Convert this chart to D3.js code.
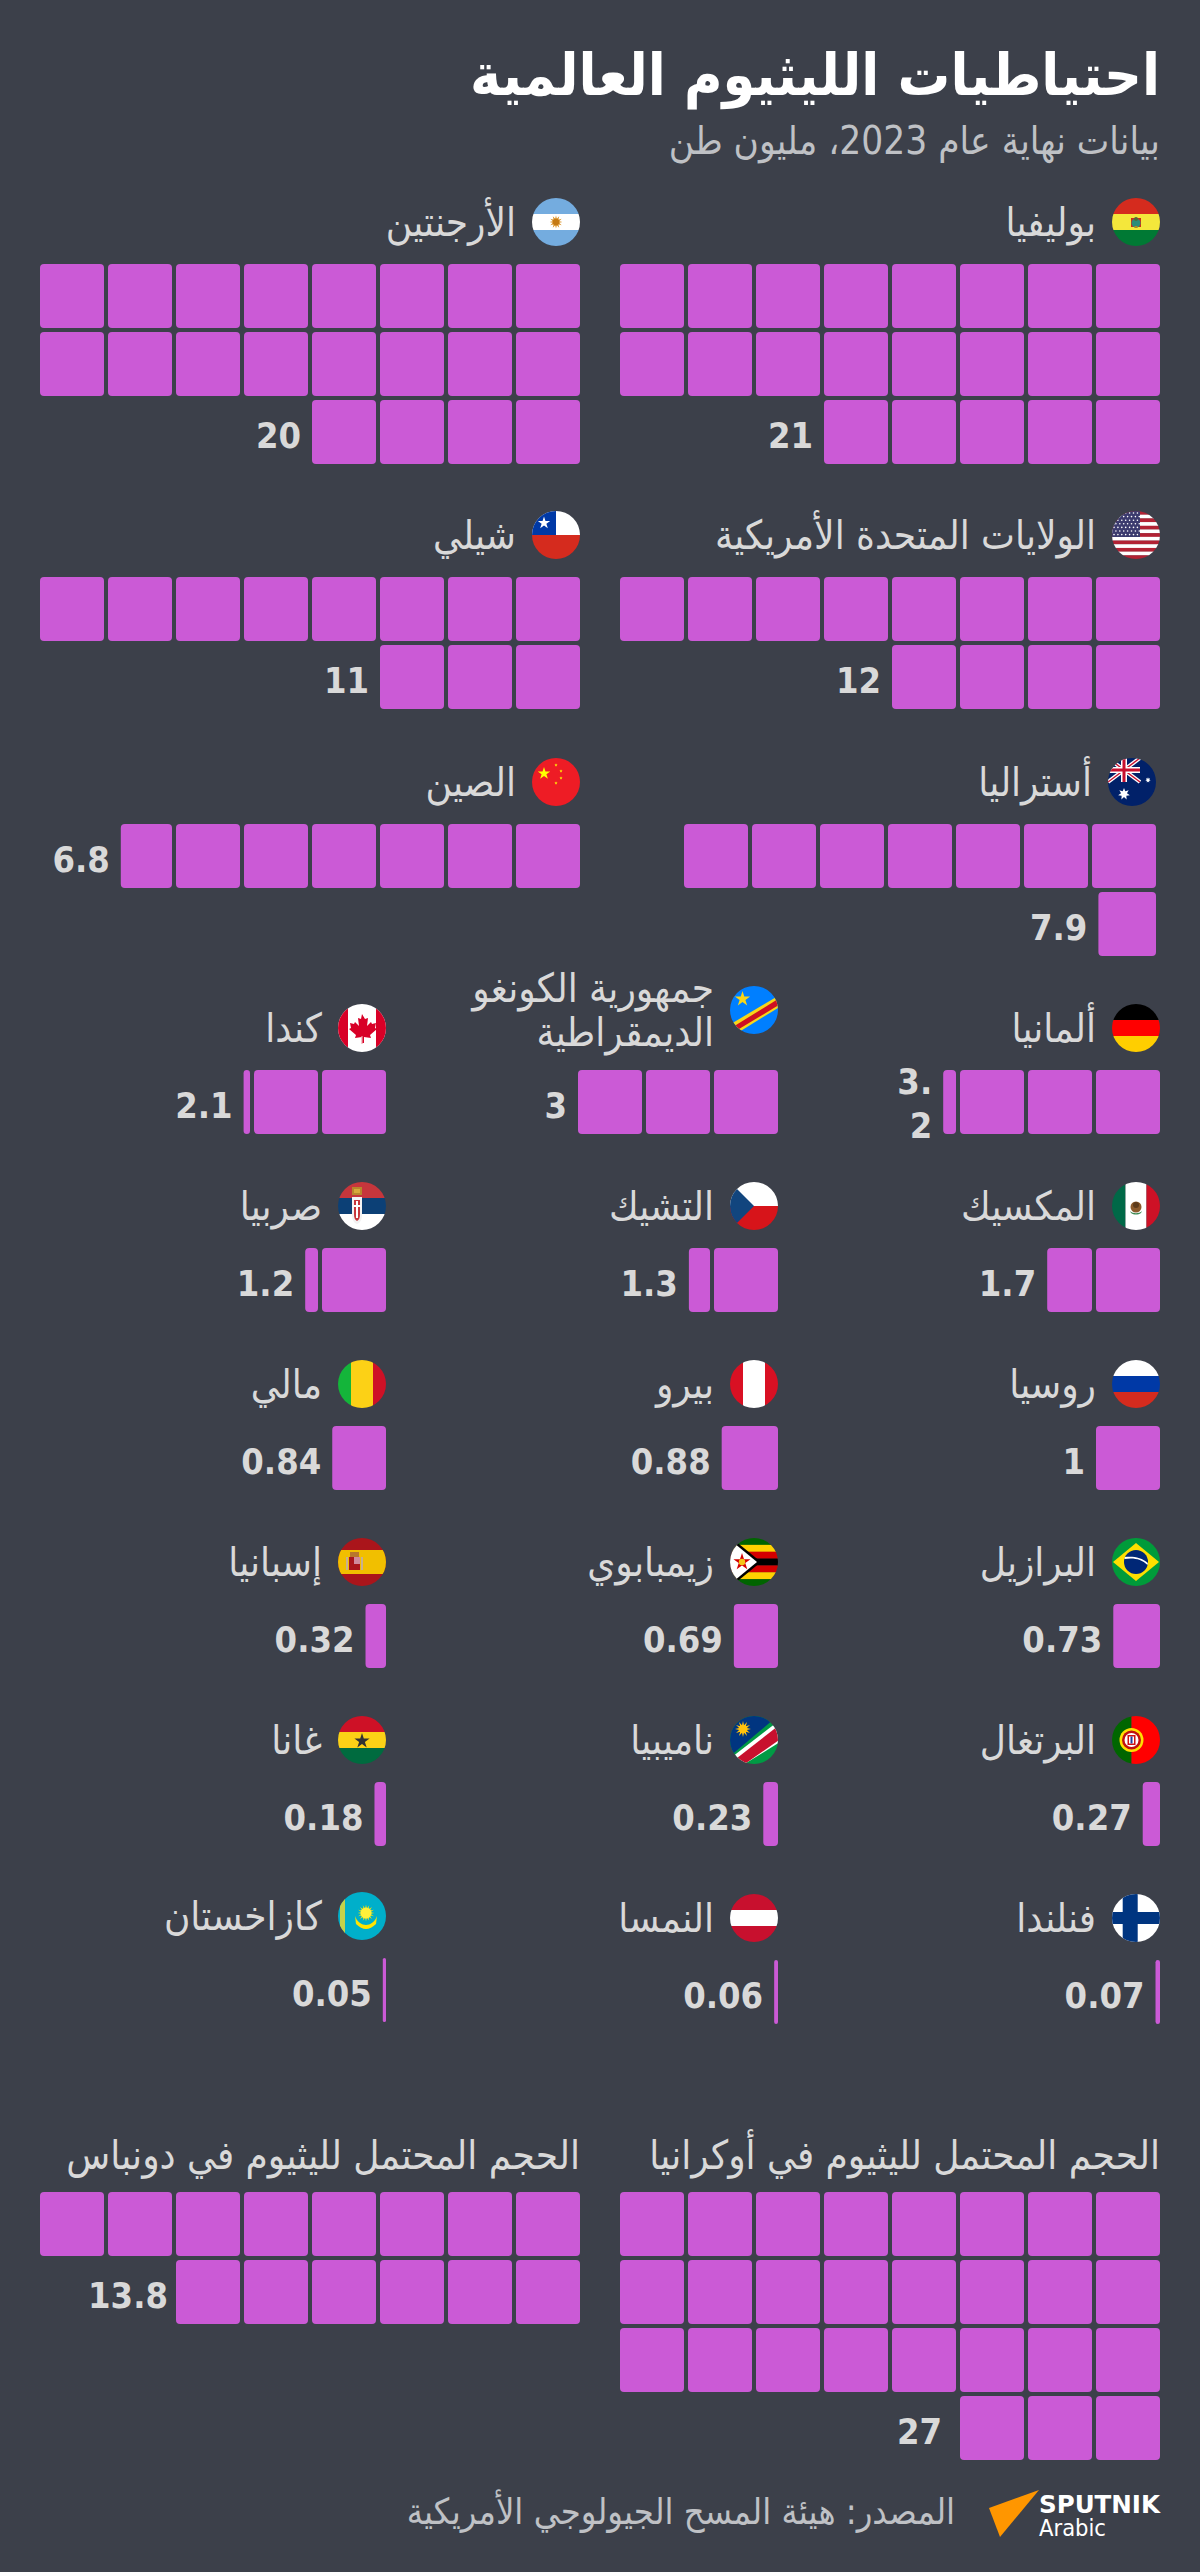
<!DOCTYPE html>
<html lang="ar">
<head>
<meta charset="utf-8">
<title>احتياطيات الليثيوم العالمية</title>
<script src="https://cdn.jsdelivr.net/npm/d3@7"></script>
<style>
html,body{margin:0;padding:0;background:#3c404a;}
svg{display:block;}
text{font-family:"DejaVu Sans Condensed","DejaVu Sans",sans-serif;}
</style>
</head>
<body>
<div id="chart"></div>
<script>
// ---------- data ----------
const titleText = "احتياطيات الليثيوم العالمية";
const subtitleText = "بيانات نهاية عام 2023، مليون طن";
const sourceText = "المصدر: هيئة المسح الجيولوجي الأمريكية";

const countryNames = [
  "بوليفيا","الأرجنتين",
  "الولايات المتحدة الأمريكية","شيلي",
  "أستراليا","الصين",
  "ألمانيا","جمهورية الكونغو الديمقراطية","كندا",
  "المكسيك","التشيك","صربيا",
  "روسيا","بيرو","مالي",
  "البرازيل","زيمبابوي","إسبانيا",
  "البرتغال","ناميبيا","غانا",
  "فنلندا","النمسا","كازاخستان"
];
const flagCodes = [
  "bo","ar","us","cl","au","cn","de","cd","ca","mx","cz","rs",
  "ru","pe","ml","br","zw","es","pt","na","gh","fi","at","kz"
];
const reserves = [21,20,12,11,7.9,6.8,3.2,3,2.1,1.7,1.33,1.2,1,0.88,0.84,0.73,0.69,0.32,0.27,0.23,0.18,0.07,0.06,0.05];
const reserveLabels = ["21","20","12","11","7.9","6.8","3.2","3","2.1","1.7","1.3","1.2","1","0.88","0.84","0.73","0.69","0.32","0.27","0.23","0.18","0.07","0.06","0.05"];

const potentialNames = ["الحجم المحتمل لليثيوم في أوكرانيا","الحجم المحتمل لليثيوم في دونباس"];
const potentialValues = [27,14];
const potentialLabels = ["27","13.8"];

// ---------- layout ----------
const W = 1200, H = 2572;
const BG = "#3c404a", BAR = "#cb5ad6", LABEL = "#d9d9d9", MUTED = "#bfc1c5";
const CELL = 64, GAP = 4, PITCH = CELL + GAP, FLAG = 48, LABEL_SIZE = 40;
const potentialLabelGaps = [18, 8];

const rowLayout = [
  {flag:222, cells:264, cols:[1160,580]},
  {flag:535, cells:577, cols:[1160,580]},
  {flag:782, cells:824, cols:[1156,580], perRow:7},
  {flag:1028,cells:1070,cols:[1160,778,386]},
  {flag:1206,cells:1248,cols:[1160,778,386]},
  {flag:1384,cells:1426,cols:[1160,778,386]},
  {flag:1562,cells:1604,cols:[1160,778,386]},
  {flag:1740,cells:1782,cols:[1160,778,386]},
  {flag:1918,cells:1960,cols:[1160,778,386]}
];

const unit = d3.scaleLinear().domain([0,1]).range([0,CELL]);
const stepX = d3.scaleLinear().domain([0,8]).range([0,8*PITCH]);
const stepY = d3.scaleLinear().domain([0,4]).range([0,4*PITCH]);

const svg = d3.select("#chart").append("svg")
  .attr("width",W).attr("height",H).attr("viewBox",[0,0,W,H]);
svg.append("rect").attr("width",W).attr("height",H).attr("fill",BG);

function rtlText(sel, x, y, txt, size, fill, weight){
  return sel.append("text").attr("x",x).attr("y",y)
    .attr("direction","rtl").attr("text-anchor","start")
    .attr("font-size",size).attr("font-weight",weight||400).attr("fill",fill).text(txt);
}

rtlText(svg,1160,95,titleText,58.5,"#ffffff",700);
rtlText(svg,1160,154,subtitleText,38.4,MUTED,400);

// cells of one country, filled from the right, wrapping every perRow cells
function cellsFor(v, perRow){
  const out=[]; let rest=v, i=0;
  while(rest>1e-9){
    const f=Math.min(rest,1);
    out.push({col:i%perRow,row:Math.floor(i/perRow),f});
    rest-=f; i++;
  }
  return out;
}
function drawBars(g, v, label, right, top, perRow, wrapLabel, labelGap){
  const cells=cellsFor(v,perRow||8);
  g.selectAll("rect.cell").data(cells).join("rect").attr("class","cell")
    .attr("x",d=>right-stepX(d.col)-unit(d.f))
    .attr("y",d=>top+stepY(d.row))
    .attr("width",d=>unit(d.f)).attr("height",CELL)
    .attr("rx",d=>Math.min(4,unit(d.f)/2)).attr("fill",BAR);
  const last=cells[cells.length-1];
  const lx=right-stepX(last.col)-unit(last.f)-(labelGap||11);
  const ly=top+stepY(last.row)+47.5;
  const t=g.append("text").attr("x",lx).attr("y",ly)
    .attr("text-anchor","end").attr("direction","ltr")
    .attr("font-size",36).attr("font-weight",700).attr("fill",LABEL);
  if(wrapLabel){
    t.attr("y",top+24);
    wrapLabel.forEach((s,i)=>t.append("tspan").attr("x",lx).attr("dy",i?44:0).text(s));
  } else t.text(label);
}

// ---------- flags ----------
const clipDefs=svg.append("defs");
clipDefs.append("clipPath").attr("id","flagClip").append("circle").attr("cx",24).attr("cy",24).attr("r",24);

function starPts(cx,cy,r,n,rot){
  n=n||5; const inner=n===5?r*0.382:r*0.5; const a0=rot===undefined?-Math.PI/2:rot; const p=[];
  for(let i=0;i<n*2;i++){const rr=i%2?inner:r,a=a0+i*Math.PI/n;p.push([cx+rr*Math.cos(a),cy+rr*Math.sin(a)].join(","));}
  return p.join(" ");
}
function fb(g){
  return {
    r:(x,y,w,h,f)=>g.append("rect").attr("x",x).attr("y",y).attr("width",w).attr("height",h).attr("fill",f),
    p:(pts,f)=>g.append("polygon").attr("points",pts).attr("fill",f),
    c:(x,y,r,f)=>g.append("circle").attr("cx",x).attr("cy",y).attr("r",r).attr("fill",f),
    s:(x,y,r,f,n,rot)=>g.append("polygon").attr("points",starPts(x,y,r,n,rot)).attr("fill",f),
    path:(d,f)=>g.append("path").attr("d",d).attr("fill",f),
    l:(x1,y1,x2,y2,st,w)=>g.append("line").attr("x1",x1).attr("y1",y1).attr("x2",x2).attr("y2",y2).attr("stroke",st).attr("stroke-width",w)
  };
}
const bands=(b,cols)=>cols.forEach((c,i)=>b.r(0,i*16,48,16,c));
const vbands=(b,xs,cols)=>cols.forEach((c,i)=>b.r(xs[i],0,xs[i+1]-xs[i],48,c));

const flagPainters={
  bo(b){bands(b,["#d52b1e","#f4e73b","#007934"]);
    b.r(19,20,10,9,"#c9301c");b.c(24,25,4.5,"#2a8c7a");b.c(24,21,2,"#4d6b3a");b.r(22.5,28,3,2,"#b08a20");},
  ar(b){bands(b,["#74acdf","#ffffff","#74acdf"]);b.s(24,24,6.5,"#d98e1c",12);b.c(24,24,3.2,"#c57a14");},
  us(b){for(let i=0;i<13;i++)b.r(0,i*48/13,48,48/13+0.2,i%2?"#ffffff":"#b22234");
    b.r(0,0,28,26,"#3c3b6e");
    for(let y=0;y<7;y++)for(let x=0;x<7;x++)b.c(2+x*3.9+(y%2?1.9:0),2+y*3.6,0.8,"#ffffff");},
  cl(b){b.r(0,0,48,24,"#ffffff");b.r(0,24,48,24,"#d52b1e");b.r(0,0,24,24,"#0039a6");b.s(12,12,6.5,"#ffffff");},
  au(b){b.r(0,0,48,48,"#012169");
    b.l(0,0,32,24,"#ffffff",4);b.l(32,0,0,24,"#ffffff",4);b.l(0,0,32,24,"#c8102e",1.4);b.l(32,0,0,24,"#c8102e",1.4);
    b.r(13,0,6,24,"#ffffff");b.r(0,9,32,6,"#ffffff");b.r(14.5,0,3,24,"#c8102e");b.r(0,10.5,32,3,"#c8102e");
    b.s(16,36,6,"#ffffff",7);b.s(40,22,2.8,"#ffffff",7);},
  cn(b){b.r(0,0,48,48,"#ee1c25");b.s(12,15.5,6.6,"#ffff00");
    [[24,7],[29,13],[29,20],[24,25]].forEach(q=>b.s(q[0],q[1],1.7,"#ffff00"));},
  de(b){bands(b,["#000000","#ff0000","#ffce00"]);},
  cd(b){b.r(0,0,48,48,"#007fff");b.p("0,38.5 48,10 48,22 9,46 0,46","#f7d618");b.p("2,41.5 48,13 48,19.5 9,43 3,43","#ce1021");b.s(12.5,13,8,"#f7d618");},
  ca(b){b.r(0,0,48,48,"#ffffff");b.r(0,0,10,48,"#d80027");b.r(38,0,10,48,"#d80027");
    b.path("M24 10l3 5 3-1-1 8 4-4 1 2 4-1-1 5 2 1-7 6 1 3-7-1v6h-2v-6l-7 1 1-3-7-6 2-1-1-5 4 1 1-2 4 4-1-8 3 1z","#d80027");
    b.r(23.4,32,1.2,8,"#f0a0a8");},
  mx(b){vbands(b,[0,13.5,34.5,48],["#006847","#ffffff","#ce1126"]);
    b.c(24,25,5.5,"#8c5a2b");b.c(24,23,3,"#5d3a1a");b.path("M18 29c3 3 9 3 12 0l-1 2c-3 2-7 2-10 0z","#3f8a55");},
  cz(b){b.r(0,0,48,24,"#ffffff");b.r(0,24,48,24,"#d7141a");b.p("0,0 24,24 0,48","#11457e");},
  rs(b){bands(b,["#c6363c","#0c4076","#ffffff"]);
    b.path("M14 15h10v18c0 5-2 8-5 9-3-1-5-4-5-9z","#f2f2f2");b.path("M16 18h6v14c0 4-1 6-3 7-2-1-3-3-3-7z","#c6363c");
    b.r(18,19,2,17,"#ffffff");b.r(15.5,23,7,2,"#ffffff");b.r(14,5,10,8,"#b8862c");b.r(16,7,6,4,"#d7a93a");},
  ru(b){bands(b,["#ffffff","#0039a6","#d52b1e"]);},
  pe(b){vbands(b,[0,13,35,48],["#d91023","#ffffff","#d91023"]);},
  ml(b){vbands(b,[0,13,35,48],["#14b53a","#fcd116","#ce1126"]);},
  br(b){b.r(0,0,48,48,"#009b3a");b.p("24,5 47,24 24,43 1,24","#fedf00");b.c(24,24,12,"#002776");
    b.path("M12.5 21c9-1.5 17 0 23 6l.4-2c-6-5.6-15-7-23-6z","#ffffff");},
  zw(b){["#006400","#ffd200","#d40000","#000000","#d40000","#ffd200","#006400"].forEach((c,i)=>b.r(0,i*48/7,48,48/7+0.2,c));
    b.p("-2,-3 31,24 -2,51","#000000");b.p("-2,0 27,24 -2,48","#ffffff");b.s(12,24,9,"#d40000");b.c(12,24,3.2,"#f5c518");},
  es(b){b.r(0,0,48,48,"#aa151b");b.r(0,12,48,24,"#f1bf00");
    b.r(11,19,11,13,"#aa151b");b.r(16,19,6,7,"#d08a9c");b.r(12,14,9,5,"#b8762c");b.r(8,19,2,13,"#c8b090");b.r(23,19,2,13,"#c8b090");},
  pt(b){b.r(0,0,19.5,48,"#006600");b.r(19.5,0,28.5,48,"#ff0000");
    b.c(19.5,24,12,"#ffe000");b.c(19.5,24,9.5,"#c01010");b.c(19.5,24,7,"#ffffff");b.r(15.5,19,8,10,"#d01010");b.r(17,20.5,5,7,"#ffffff");b.r(18.5,20.5,2,7,"#2040a0");},
  na(b){b.r(0,0,48,48,"#009a44");b.p("-2,-2 50,-2 -2,42","#003580");
    b.p("50,4 50,26 8,52 -2,44","#ffffff");b.p("52,7 52,22 9,52 2,46","#c8102e");
    b.s(13,13,8,"#ffc20e",12);b.c(13,13,4,"#ffc20e");},
  gh(b){bands(b,["#ce1126","#fcd116","#006b3f"]);b.s(24,25,8,"#333333");},
  fi(b){b.r(0,0,48,48,"#ffffff");b.r(10.7,0,15,48,"#003580");b.r(0,18,48,12,"#003580");},
  at(b){bands(b,["#c8102e","#ffffff","#c8102e"]);},
  kz(b){b.r(0,0,48,48,"#00afca");b.r(2,0,5,48,"#c5d24a");
    b.s(28,21,8.5,"#ffe400",16);b.c(28,21,5.5,"#fff03a");
    b.path("M17 24c2 6 7 9 11 9s9-3 11-9l-1 8c-3 3-7 5-10 5s-7-2-10-5z","#ffe400");}
};
function drawFlag(parent,code,right,cy){
  const g=parent.append("g").attr("transform",`translate(${right-FLAG},${cy-FLAG/2})`);
  const inner=g.append("g").attr("clip-path","url(#flagClip)");
  flagPainters[code](fb(inner));
}

// ---------- country blocks ----------
let idx=0;
rowLayout.forEach(row=>{
  row.cols.forEach(right=>{
    const i=idx++;
    const g=svg.append("g").attr("class","country");
    const flagY=(flagCodes[i]==="cd")?1010:(flagCodes[i]==="kz")?row.flag-2:row.flag;
    drawFlag(g,flagCodes[i],right,flagY);
    const labelX=right-FLAG-16;
    if(flagCodes[i]==="cd"){
      const parts=countryNames[i].split(" ");
      rtlText(g,labelX,1002,parts.slice(0,2).join(" "),LABEL_SIZE,LABEL,400);
      rtlText(g,labelX,1046,parts.slice(2).join(" "),LABEL_SIZE,LABEL,400);
    } else {
      rtlText(g,labelX,flagY+14,countryNames[i],LABEL_SIZE,LABEL,400);
    }
    const top=row.cells-(flagCodes[i]==="kz"?2:0);
    drawBars(g,reserves[i],reserveLabels[i],right,top,row.perRow,reserveLabels[i]==="3.2"?["3.","2"]:null);
  });
});

// ---------- potential blocks ----------
[1160,580].forEach((right,i)=>{
  const g=svg.append("g").attr("class","potential");
  rtlText(g,right,2169,potentialNames[i],LABEL_SIZE,LABEL,400);
  drawBars(g,potentialValues[i],potentialLabels[i],right,2192,8,null,potentialLabelGaps[i]);
});

// ---------- footer ----------
rtlText(svg,955,2524,sourceText,36,MUTED,400);
svg.append("polygon").attr("points","1039,2490 989,2508 1000,2537").attr("fill","#ff9600");
svg.append("text").attr("x",1039).attr("y",2513).attr("font-size",25).attr("font-weight",700)
  .attr("textLength",121).attr("lengthAdjust","spacingAndGlyphs").attr("fill","#ffffff").text("SPUTNIK");
svg.append("text").attr("x",1039).attr("y",2536).attr("font-size",23).attr("font-weight",400)
  .attr("textLength",67).attr("lengthAdjust","spacingAndGlyphs").attr("fill","#ffffff").text("Arabic");
</script>
</body>
</html>
